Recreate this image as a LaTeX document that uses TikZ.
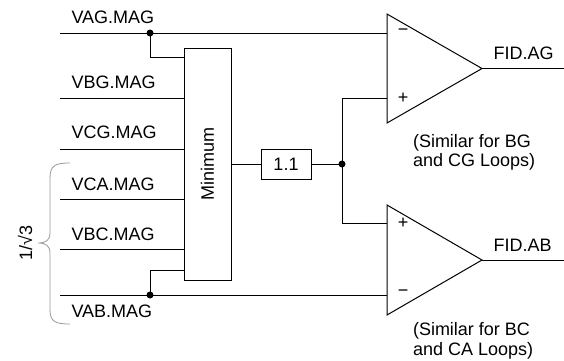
\documentclass[tikz,border=0pt]{standalone}
\usepackage{fontspec}
\setmainfont{Liberation Sans}
\usetikzlibrary{positioning}
\tikzset{
  blk/.style={draw, inner sep=0pt},
  lbl/.style={anchor=base west, inner sep=0pt},
  jdot/.style={circle, fill, inner sep=0pt, minimum size=7pt},
}

\begin{document}
\begin{tikzpicture}[x=1pt,y=-1pt,line width=1pt,font=\fontsize{18}{19.5}\selectfont]
      \useasboundingbox (0,0) rectangle (564,360);

      % inputs
      \coordinate (vag) at (60,33);
      \coordinate (vbg) at (60,98);
      \coordinate (vcg) at (60,149);
      \coordinate (vca) at (60,199);
      \coordinate (vbc) at (60,249);
      \coordinate (vab) at (60,295);
      \node[lbl] (vagl) at (71,23) {VAG.MAG};
      \node[lbl] (vbgl) at (71,88) {VBG.MAG};
      \node[lbl] (vcgl) at (71,138) {VCG.MAG};
      \node[lbl] (vcal) at (71,190) {VCA.MAG};
      \node[lbl] (vbcl) at (71,240) {VBC.MAG};
      \node[lbl] (vabl) at (71,317) {VAB.MAG};

      % 1/sqrt3 brace
      \draw[gray!80, line width=0.8pt] (70,163) .. controls (56,163) and (50,165) .. (50,178) -- (50,233)
            .. controls (50,240) and (46,243) .. (38,243) .. controls (46,243) and (50,246) .. (50,253)
            -- (50,310) .. controls (50,322) and (56,324) .. (70,324);
      \node[rotate=90] (rt3) at (25,243) {1/√3};

      % minimum and gain
      \node[blk, minimum width=47pt, minimum height=232pt] (minb) at (207.5,164) {};
      \node[rotate=90] (mint) at (minb.center) {Minimum};
      \node[blk, minimum width=50pt, minimum height=30pt] (gain) at (286,164) {1.1};

      % junctions
      \node[jdot] (dag) at (150,33) {};
      \node[jdot] (dab) at (150,295) {};
      \node[jdot] (dgain) at (342,164) {};

      % AG comparator
      \coordinate (agt) at (387,14);
      \coordinate (agb) at (387,123);
      \coordinate (agtip) at (482,68.5);
      \coordinate (agm) at (387,33);
      \coordinate (agp) at (387,98);
      \coordinate (ago) at (564,68.5);
      \draw (agt) -- (agtip) -- (agb) -- cycle;
      \node (agms) at (403,32) {−};
      \node (agps) at (403,98.5) {+};
      \node[lbl] (agl) at (493,59.5) {FID.AG};
      \node[anchor=north west, inner sep=0pt, align=left] (agnote) at (412.5,133.5) {(Similar for BG\\and CG Loops)};

      % AB comparator
      \coordinate (abt) at (387,205);
      \coordinate (abb) at (387,315);
      \coordinate (abtip) at (482,260);
      \coordinate (abp) at (387,223);
      \coordinate (abm) at (387,295);
      \coordinate (abo) at (564,260);
      \draw (abt) -- (abtip) -- (abb) -- cycle;
      \node (abps) at (403,223) {+};
      \node (abms) at (403,293) {−};
      \node[lbl] (abl) at (493,251) {FID.AB};
      \node[anchor=north west, inner sep=0pt, align=left] (abnote) at (412.5,322) {(Similar for BC\\and CA Loops)};

      % wires
      \draw (vag) -- (agm);
      \draw (dag.center) |- ([yshift=-10pt]minb.north west);
      \draw (vbg) -- (vbg -| minb.west);
      \draw (vcg) -- (vcg -| minb.west);
      \draw (vca) -- (vca -| minb.west);
      \draw (vbc) -- (vbc -| minb.west);
      \draw (vab) -- (abm);
      \draw (dab.center) |- ([yshift=10pt]minb.south west);
      \draw (minb.east) -- (gain.west);
      \draw (gain.east) -- (dgain.center);
      \draw (dgain.center) |- (agp);
      \draw (dgain.center) |- (abp);
      \draw (agtip) -- (ago);
      \draw (abtip) -- (abo);
\end{tikzpicture}
\end{document}
